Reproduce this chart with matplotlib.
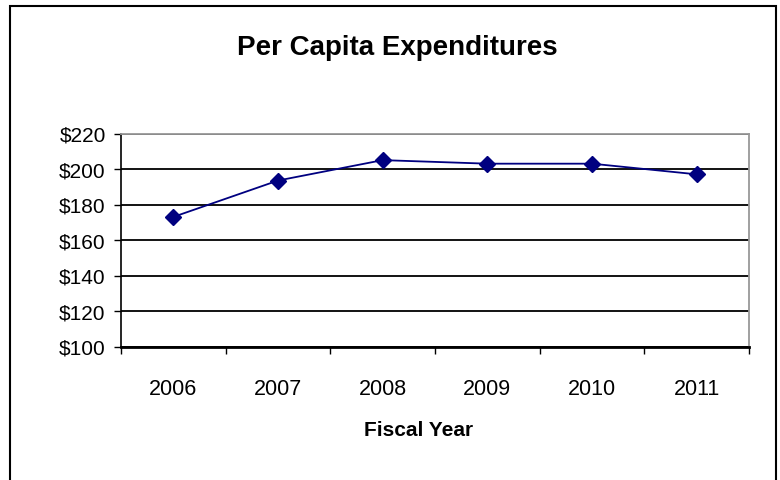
import matplotlib
matplotlib.use('Agg')
import matplotlib.pyplot as plt
from matplotlib.patches import Rectangle

plt.rcParams['font.family'] = ['Liberation Sans', 'DejaVu Sans']

years = ['2006', '2007', '2008', '2009', '2010', '2011']
spending = [173, 193.5, 205, 203, 203, 197]
y_ticks = [100, 120, 140, 160, 180, 200, 220]

fig = plt.figure(figsize=(7.8, 4.81), dpi=100)
ax = fig.add_axes([121/780, 1 - 347.5/481, (749 - 121)/780, (347.5 - 134.5)/481])

x = list(range(len(years)))
ax.plot(x, spending, color='#000080', lw=1.3, marker='D', markersize=8,
        markerfacecolor='#000080', markeredgecolor='#000080', zorder=3)

ax.set_xlim(-0.5, len(years) - 0.5)
ax.set_ylim(100, 220)
ax.set_yticks(y_ticks)
ax.set_yticklabels(['$' + str(v) for v in y_ticks], fontsize=15)
ax.set_xticks(x)
ax.set_xticklabels(years, fontsize=15.5)
ax.set_xticks([i - 0.5 for i in range(len(years) + 1)], minor=True)
ax.tick_params(axis='x', which='major', length=0, pad=23)
ax.tick_params(axis='x', which='minor', length=5, width=1, direction='out')
ax.tick_params(axis='y', length=5, width=1, direction='out', pad=6)

ax.yaxis.grid(True, color='black', lw=1.3)
ax.set_axisbelow(True)
for s in ['top', 'right']:
    ax.spines[s].set_color('#999999')
    ax.spines[s].set_linewidth(1.3)
ax.spines['left'].set_linewidth(1.2)
ax.spines['bottom'].set_linewidth(2)

fig.text(397/780, 1 - 48/481, 'Per Capita Expenditures', fontsize=20,
         fontweight='bold', ha='center', va='center')
fig.text(419/780, 1 - 430/481, 'Fiscal Year', fontsize=15,
         fontweight='bold', ha='center', va='center')

fig.patches.append(Rectangle((10/780, -0.05), 766/780, 1.036, transform=fig.transFigure,
                             fill=False, edgecolor='black', lw=1.5))

fig.savefig('out.png', dpi=100)
